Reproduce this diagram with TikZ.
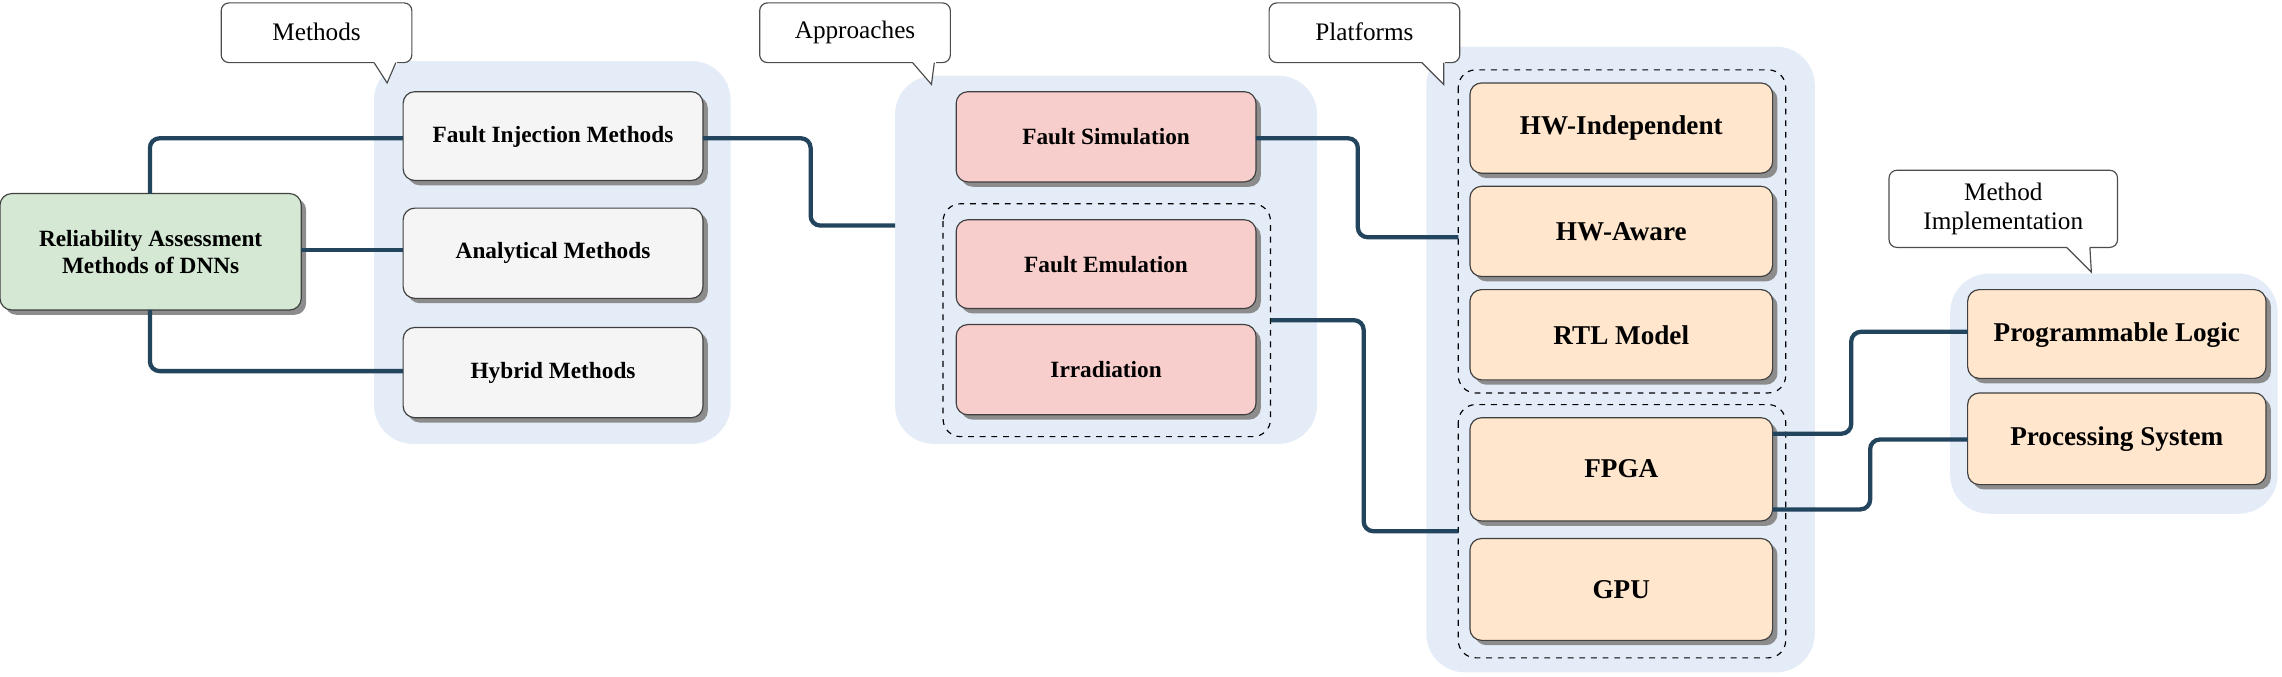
\documentclass[tikz,border=0pt]{standalone}
\usepackage{fontspec}
\setmainfont{Liberation Serif}
\usetikzlibrary{shadows}
\definecolor{bgb}{HTML}{E4ECF8}
\definecolor{lnc}{HTML}{23445D}
\definecolor{grayf}{HTML}{F5F5F5}
\definecolor{pinkf}{HTML}{F8CECC}
\definecolor{orf}{HTML}{FFE6CC}
\definecolor{grf}{HTML}{D5E8D4}
\begin{document}
\begin{tikzpicture}[x=0.75pt,y=-0.75pt,
 bg/.style={fill=bgb,draw=none,rounded corners=20pt},
 box/.style={draw=black!75,rounded corners=6pt,line width=0.6pt,drop shadow={shadow xshift=2.5pt,shadow yshift=-2.5pt,fill=black!45,opacity=1}},
 dbox/.style={draw=black,dashed,rounded corners=9pt,line width=0.6pt},
 lbl/.style={font=\bfseries\fontsize{12}{14}\selectfont,align=center},
 big/.style={font=\bfseries\fontsize{14}{16}\selectfont,align=center},
 con/.style={draw=lnc,line width=2.2pt,rounded corners=5pt},
 call/.style={draw=black!70,fill=white,rounded corners=4pt,line width=0.6pt},
 ct/.style={font=\fontsize{13}{15}\selectfont,align=center}]
\useasboundingbox (0,0) rectangle (1568,465);
% backgrounds
\fill[bg] (257,42) rectangle (502,305);
\fill[bg] (615,52) rectangle (905,305);
\fill[bg] (980,32) rectangle (1247,462);
\fill[bg] (1340,188) rectangle (1565,353);
\draw[dbox] (648,140) rectangle (873,300); \coordinate (d1) at (873,220);
\draw[dbox] (1002,48) rectangle (1227,270);
\draw[dbox] (1002,278) rectangle (1227,452);
% boxes
\filldraw[box,fill=grf] (0,133) rectangle (207,213);
\node[lbl] (rel) at (103.5,173) {Reliability Assessment\\Methods of DNNs};
\filldraw[box,fill=grayf] (277,63) rectangle (483,124); \node[lbl] (fim) at (380,94) {Fault Injection Methods};
\filldraw[box,fill=grayf] (277,143) rectangle (483,205); \node[lbl] (am) at (380,174) {Analytical Methods};
\filldraw[box,fill=grayf] (277,225) rectangle (483,287); \node[lbl] (hm) at (380,256) {Hybrid Methods};
\filldraw[box,fill=pinkf] (657,63) rectangle (863,125); \node[lbl] (fs) at (760,94) {Fault Simulation};
\filldraw[box,fill=pinkf] (657,151) rectangle (863,212); \node[lbl] (fe) at (760,182) {Fault Emulation};
\filldraw[box,fill=pinkf] (657,223) rectangle (863,285); \node[lbl] (ir) at (760,254) {Irradiation};
\filldraw[box,fill=orf] (1010,57) rectangle (1218,119); \node[big] (hi) at (1114,88) {HW-Independent};
\filldraw[box,fill=orf] (1010,128) rectangle (1218,190); \node[big] (ha) at (1114,159) {HW-Aware};
\filldraw[box,fill=orf] (1010,199) rectangle (1218,261); \node[big] (rtl) at (1114,230) {RTL Model};
\filldraw[box,fill=orf] (1010,287) rectangle (1218,358); \node[big] (fpga) at (1114,322) {FPGA};
\filldraw[box,fill=orf] (1010,370) rectangle (1218,440); \node[big] (gpu) at (1114,405) {GPU};
\filldraw[box,fill=orf] (1352,199) rectangle (1557,260); \node[big] (pl) at (1454.5,230) {Programmable Logic};
\filldraw[box,fill=orf] (1352,270) rectangle (1557,333); \node[big] (ps) at (1454.5,302) {Processing System};
% callouts
\draw[call] (152,2) rectangle (283,43); \fill[white] (257,41) rectangle (273,45);
\draw[black!70,line width=0.6pt,fill=white] (257,43) -- (266,57) -- (272,43);
\node[ct] (c1) at (217.5,22) {Methods};
\draw[call] (522,2) rectangle (653,43); \fill[white] (627,41) rectangle (643,45);
\draw[black!70,line width=0.6pt,fill=white] (627,43) -- (640,58) -- (642,43);
\node[ct] (c2) at (587.5,22) {Approaches};
\draw[call] (872,2) rectangle (1003,43); \fill[white] (977,41) rectangle (993,45);
\draw[black!70,line width=0.6pt,fill=white] (977,43) -- (992,58) -- (992,43);
\node[ct] (c3) at (937.5,22) {Platforms};
\draw[call] (1298,117) rectangle (1455,170); \fill[white] (1420,168) rectangle (1436,172);
\draw[black!70,line width=0.6pt,fill=white] (1420,170) -- (1437,187) -- (1436,170);
\node[ct] (c4) at (1376.5,143.5) {Method\\Implementation};
% connectors
\coordinate (bA) at (615,155); \coordinate (bP1) at (1002,163); \coordinate (bP2) at (1002,365);
\draw[con] (103,133) |- (277,95);
\draw[con] (207,172) -- (277,172);
\draw[con] (103,213) |- (277,255);
\draw[con] (483,95) -| (557,155) -- (bA);
\draw[con] (863,95) -| (933,163) -- (bP1);
\draw[con] (d1) -| (937,365) -- (bP2);
\draw[con] (1218,298) -| (1272,228) -- (1352,228);
\draw[con] (1218,350) -| (1285,302) -- (1352,302);
\end{tikzpicture}
\end{document}
